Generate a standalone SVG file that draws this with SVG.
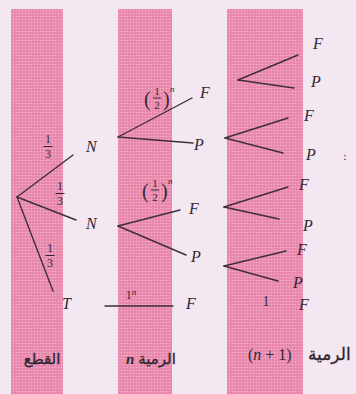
<svg xmlns="http://www.w3.org/2000/svg" width="356" height="394" viewBox="0 0 356 394">
<defs>
<pattern id="dots" width="3" height="3" patternUnits="userSpaceOnUse">
<rect width="3" height="3" fill="#e886ab"/>
<circle cx="1.5" cy="1.5" r="0.8" fill="#f3b3cb"/>
</pattern>
</defs>
<style>
.ln{stroke:#3e2e3e;stroke-width:1.4;fill:none;stroke-linecap:round}
.v{font-family:"Liberation Serif",serif;font-style:italic;font-size:16px;fill:#332833}
.fr{font-family:"Liberation Serif",serif;font-size:12px;fill:#332833;text-anchor:middle}
.fh{font-size:11px}
.pr{font-family:"Liberation Serif",serif;font-size:20px;fill:#332833}
.sup{font-family:"Liberation Serif",serif;font-style:italic;font-size:9px;fill:#332833}
.bar{stroke:#332833;stroke-width:1}
.ar{font-family:"DejaVu Sans",sans-serif;font-size:15px;fill:#2e242e;stroke:#2e242e;stroke-width:0.3}
</style>
<rect width="356" height="394" fill="#f3e7f1"/>
<rect x="11" y="9" width="52" height="385" fill="url(#dots)"/>
<rect x="118" y="9" width="54" height="385" fill="url(#dots)"/>
<rect x="227" y="9" width="76" height="385" fill="url(#dots)"/>

<g id="connectors">
<line class="ln" x1="17" y1="197" x2="73" y2="155"/>
<line class="ln" x1="17" y1="197" x2="76" y2="220"/>
<line class="ln" x1="17" y1="197" x2="53" y2="291"/>
<line class="ln" x1="118" y1="137" x2="192" y2="98"/>
<line class="ln" x1="118" y1="137" x2="193" y2="143"/>
<line class="ln" x1="118" y1="226" x2="180" y2="210"/>
<line class="ln" x1="118" y1="226" x2="186" y2="255"/>
<line class="ln" x1="105" y1="306" x2="173" y2="306"/>
<line class="ln" x1="238" y1="80" x2="298" y2="55"/>
<line class="ln" x1="238" y1="80" x2="294" y2="88"/>
<line class="ln" x1="225" y1="138" x2="288" y2="118"/>
<line class="ln" x1="225" y1="138" x2="283" y2="153"/>
<line class="ln" x1="224" y1="207" x2="288" y2="187"/>
<line class="ln" x1="224" y1="207" x2="279" y2="219"/>
<line class="ln" x1="224" y1="266" x2="286" y2="251"/>
<line class="ln" x1="224" y1="266" x2="278" y2="281"/>
</g>

<g id="edge-labels">
<text class="fr" x="48" y="143">1</text><line class="bar" x1="43.5" y1="146.5" x2="52.5" y2="146.5"/><text class="fr" x="48" y="158">3</text>
<text class="fr" x="60" y="190">1</text><line class="bar" x1="55.5" y1="193.5" x2="64.5" y2="193.5"/><text class="fr" x="60" y="205">3</text>
<text class="fr" x="50" y="252">1</text><line class="bar" x1="45.5" y1="255.5" x2="54.5" y2="255.5"/><text class="fr" x="50" y="267">3</text>
<g>
<text class="pr" x="144" y="106">(</text><text class="fr fh" x="157" y="95">1</text><line class="bar" x1="153" y1="98" x2="161" y2="98"/><text class="fr fh" x="157" y="108.5">2</text><text class="pr" x="163" y="106">)</text><text class="sup" x="170" y="92">n</text>
</g>
<g>
<text class="pr" x="142" y="198">(</text><text class="fr fh" x="155" y="187">1</text><line class="bar" x1="151" y1="190" x2="159" y2="190"/><text class="fr fh" x="155" y="200.5">2</text><text class="pr" x="161" y="198">)</text><text class="sup" x="168" y="184">n</text>
</g>
<text class="fr" x="131" y="299">1<tspan class="sup" dy="-4">n</tspan></text>
<text class="fr" x="266" y="306" style="font-size:14px">1</text>
</g>

<g id="N1"><text class="v" x="86" y="152">N</text></g>
<g id="N2"><text class="v" x="86" y="229">N</text></g>
<g id="T"><text class="v" x="62" y="309">T</text></g>
<g id="F1"><text class="v" x="200" y="98">F</text></g>
<g id="P1"><text class="v" x="194" y="150">P</text></g>
<g id="F2"><text class="v" x="189" y="214">F</text></g>
<g id="P2"><text class="v" x="191" y="262">P</text></g>
<g id="FT"><text class="v" x="186" y="309">F</text></g>
<g id="F3a"><text class="v" x="313" y="49">F</text></g>
<g id="P3a"><text class="v" x="311" y="87">P</text></g>
<g id="F3b"><text class="v" x="304" y="121">F</text></g>
<g id="P3b"><text class="v" x="306" y="160">P</text></g>
<g id="F3c"><text class="v" x="299" y="190">F</text></g>
<g id="P3c"><text class="v" x="303" y="231">P</text></g>
<g id="F3d"><text class="v" x="297" y="255">F</text></g>
<g id="P3d"><text class="v" x="293" y="288">P</text></g>
<g id="F3e"><text class="v" x="299" y="310">F</text></g>
<text class="ar" x="343" y="160" style="font-size:11px;stroke-width:0">:</text>

<g id="col-labels">
<text class="ar" x="42" y="364" text-anchor="middle">القطع</text>
<text class="ar" x="157" y="364" text-anchor="middle">الرمية</text>
<text class="v" x="126" y="364" style="font-size:15px;font-weight:bold">n</text>
<text class="v" x="248" y="360" style="font-style:normal;font-size:16px">(<tspan style="font-style:italic">n</tspan> + 1)</text>
<text class="ar" x="308" y="360" style="font-size:17px">الرمية</text>
</g>
</svg>
